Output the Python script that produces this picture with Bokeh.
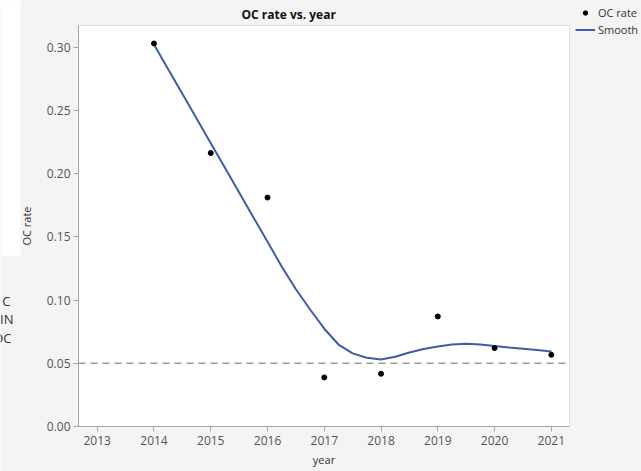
from bokeh.plotting import figure
from bokeh.models import (Range1d, FixedTicker, Legend, LegendItem, Label,
                          LinearAxis, BoxAnnotation)
from bokeh.embed import file_html
from bokeh.resources import INLINE

# ---- data ----
years = [2014, 2015, 2016, 2017, 2018, 2019, 2020, 2021]
oc_rate = [0.3028, 0.2162, 0.181, 0.0388, 0.0417, 0.087, 0.062, 0.0567]

smooth_x = [2014.0, 2014.25, 2014.5, 2014.75, 2015.0, 2015.25, 2015.5, 2015.75,
            2016.0, 2016.25, 2016.5, 2016.75, 2017.0, 2017.25, 2017.5, 2017.75,
            2018.0, 2018.25, 2018.5, 2018.75, 2019.0, 2019.25, 2019.5, 2019.75,
            2020.0, 2020.25, 2020.5, 2020.75, 2021.0]
smooth_y = [0.302, 0.2825, 0.263, 0.2435, 0.224, 0.2045, 0.185, 0.1655,
            0.146, 0.1265, 0.1085, 0.0925, 0.0773, 0.0648, 0.0578, 0.0543,
            0.053, 0.0552, 0.0585, 0.0612, 0.0633, 0.0648, 0.0654, 0.0649,
            0.0637, 0.0625, 0.0615, 0.0604, 0.0593]

x_ticks = [2013, 2014, 2015, 2016, 2017, 2018, 2019, 2020, 2021]
y_ticks = [0.0, 0.05, 0.10, 0.15, 0.20, 0.25, 0.30]
ref_level = 0.05
side_labels = ["C", "IN", "OC"]
legend_labels = ["OC rate", "Smooth"]
title_text = "OC rate vs. year"

# axis extents of the plot area
X_MIN, X_MAX = 2012.67, 2021.32
Y_MIN, Y_MAX = 0.0, 0.317

# ---- layout geometry (pixels) ----
W, H = 641, 471
PL, PR, PT, PB = 78, 569, 25, 426   # plot-area box on the canvas
FONT = "Open Sans"
BG = "#f4f4f4"
GRAY = "#a6a6a6"
BLUE = "#3f5bab"

kx = (PR - PL) / (X_MAX - X_MIN)
ky = (PB - PT) / (Y_MAX - Y_MIN)
x_range = Range1d(X_MIN - PL / kx, X_MAX + (W - PR) / kx)
y_range = Range1d(Y_MIN - (H - PB) / ky, Y_MAX + PT / ky)

p = figure(width=W, height=H, output_backend="svg", toolbar_location=None,
           x_range=x_range, y_range=y_range, title_location=None,
           x_axis_type=None, y_axis_type=None,
           min_border_left=0, min_border_right=0, min_border_top=0, min_border_bottom=0)
p.margin = 0
p.border_fill_color = BG
p.background_fill_color = BG
p.outline_line_color = None
p.grid.visible = False

# white plot area with grey frame
p.add_layout(BoxAnnotation(left=X_MIN, right=X_MAX, bottom=Y_MIN, top=Y_MAX,
                           fill_color="white", fill_alpha=1,
                           line_color=GRAY, line_width=1, level="underlay"))
# white patch at top-left of the screenshot
p.add_layout(BoxAnnotation(left=0, right=20, top=H, bottom=H - 255,
                           left_units="screen", right_units="screen",
                           top_units="screen", bottom_units="screen",
                           fill_color="white", fill_alpha=1, line_color=None,
                           level="underlay"))


def style_axis(ax):
    ax.axis_line_color = GRAY
    ax.major_tick_line_color = GRAY
    ax.major_tick_out = 5
    ax.major_tick_in = 0
    ax.minor_tick_line_color = None
    ax.major_label_text_font = FONT
    ax.major_label_text_font_size = "12px"
    ax.major_label_text_color = "#555555"
    ax.axis_label_text_font = FONT
    ax.axis_label_text_font_size = "11px"
    ax.axis_label_text_font_style = "normal"
    ax.axis_label_text_color = "#333333"


xaxis = LinearAxis(ticker=FixedTicker(ticks=x_ticks), axis_label="year",
                   fixed_location=Y_MIN, bounds=(X_MIN, X_MAX))
style_axis(xaxis)
xaxis.major_label_standoff = 4
xaxis.axis_label_standoff = 4
p.add_layout(xaxis, "below")

yaxis = LinearAxis(ticker=FixedTicker(ticks=y_ticks), axis_label="OC rate",
                   fixed_location=X_MIN, bounds=(Y_MIN, Y_MAX))
style_axis(yaxis)
yaxis.major_label_overrides = {t: f"{t:.2f}" for t in y_ticks}
yaxis.major_label_standoff = 3
yaxis.axis_label_standoff = 10
p.add_layout(yaxis, "left")

# dashed reference line
p.segment(x0=[X_MIN], x1=[X_MAX], y0=[ref_level], y1=[ref_level],
          line_color="#9a9a9a", line_width=1.3, line_dash="7 5")

line_r = p.line(smooth_x, smooth_y, line_color=BLUE, line_width=2)
pts_r = p.scatter(years, oc_rate, size=5, fill_color="black", line_color="black")

# title
p.add_layout(Label(x=241, y=H - 14, x_units="screen", y_units="screen",
                   text=title_text, text_font=FONT, text_font_size="12px",
                   text_font_style="bold", text_color="#111111",
                   text_align="left", text_baseline="middle"))

# legend, outside the plot area at the top right
legend = Legend(items=[LegendItem(label=legend_labels[0], renderers=[pts_r]),
                       LegendItem(label=legend_labels[1], renderers=[line_r])],
                location=(575, H - 38), orientation="vertical")
legend.background_fill_alpha = 0
legend.border_line_color = None
legend.padding = 0
legend.margin = 0
legend.spacing = 0
legend.glyph_width = 20
legend.glyph_height = 11
legend.label_height = 17
legend.label_standoff = 3
legend.label_text_font = FONT
legend.label_text_font_size = "11px"
legend.label_text_color = "#333333"
p.add_layout(legend)

# cut-off texts at the left edge of the screenshot
for txt, yy, xr in zip(side_labels, [300, 318, 337], [10, 13, 11]):
    p.add_layout(Label(x=xr, y=H - yy, x_units="screen", y_units="screen", text=txt,
                       text_align="right", text_baseline="middle",
                       text_font=FONT, text_font_size="13px", text_color="#333333"))

open("out.html", "w").write(file_html(p, INLINE))
